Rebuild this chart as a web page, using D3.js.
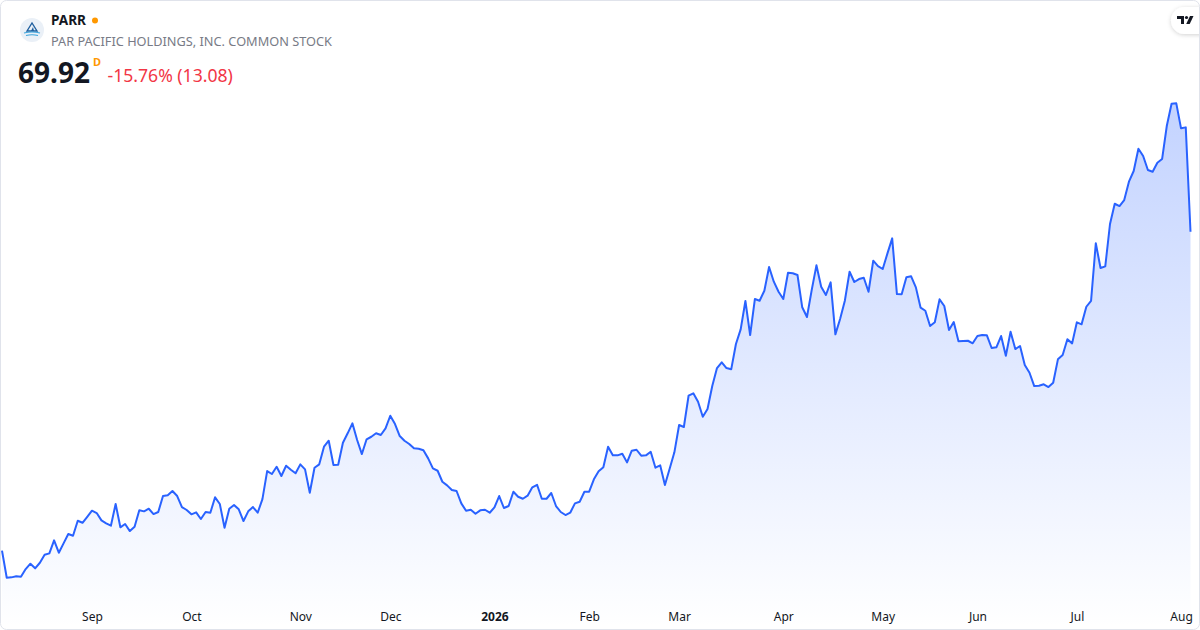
<!DOCTYPE html>
<html>
<head>
<meta charset="utf-8">
<script src="https://cdn.jsdelivr.net/npm/d3@7"></script>
<style>
  html, body { margin: 0; padding: 0; background: #fff; }
  svg { display: block; font-family: "Noto Sans", "Open Sans", sans-serif; }
</style>
</head>
<body>
<svg id="chart" width="1200" height="630"></svg>
<script>
// ---- data ----
const symbol = "PARR";
const companyName = "PAR PACIFIC HOLDINGS, INC. COMMON STOCK";
const lastPrice = "69.92";
const changeText = "-15.76% (13.08)";
const startDate = "2025-08-05";
const holidays = ["2025-09-01","2025-11-27","2025-12-25","2026-01-01","2026-01-19",
                  "2026-02-16","2026-04-03","2026-05-25","2026-06-19","2026-07-03"];
const closes = [
  29.95,26.56,26.61,26.74,26.69,27.65,28.32,27.74,28.44,29.44,
  29.62,31.25,29.70,30.87,32.04,31.82,33.70,33.45,34.20,34.96,
  34.67,33.75,33.38,33.08,35.80,32.88,33.29,32.41,32.95,35.01,
  34.88,35.21,34.54,34.80,36.80,36.89,37.43,36.80,35.42,35.05,
  34.51,34.76,33.92,34.80,34.71,36.64,35.80,32.83,35.21,35.67,
  35.13,33.67,34.88,35.42,34.71,36.42,39.93,39.56,40.47,39.31,
  40.60,40.10,39.65,40.77,40.14,37.21,40.35,40.77,42.98,43.73,
  40.69,40.72,43.48,44.66,45.91,43.82,42.06,43.91,44.23,44.66,
  44.45,45.28,46.86,45.82,44.32,43.73,43.32,42.78,42.73,42.53,
  41.52,40.27,39.97,38.59,38.14,37.55,37.43,35.88,34.96,35.08,
  34.58,35.01,35.08,34.71,35.38,36.80,35.30,35.55,37.34,36.71,
  36.46,36.84,37.89,38.21,36.46,36.46,37.18,35.55,34.80,34.42,
  34.71,35.88,36.09,37.34,37.34,38.89,39.90,40.40,42.98,41.90,
  41.90,42.10,41.02,42.48,42.60,41.85,41.90,42.35,40.35,40.65,
  38.18,40.22,42.28,45.70,45.45,49.37,49.67,48.62,46.74,47.70,
  50.59,52.84,53.56,52.84,52.68,55.85,57.69,61.24,56.97,61.49,
  61.27,62.52,65.50,63.66,62.40,61.49,64.78,64.71,64.50,60.45,
  59.23,62.61,65.71,63.03,61.99,63.58,57.06,58.98,61.27,64.91,
  63.62,63.99,64.16,62.40,66.29,65.62,65.25,67.21,69.09,62.11,
  62.08,64.21,64.33,62.95,60.40,60.02,58.10,58.57,61.45,60.61,
  57.60,58.61,56.19,56.22,56.26,55.94,56.85,56.97,56.94,55.35,
  55.44,56.85,54.38,57.39,55.22,55.60,53.22,52.25,50.58,50.62,
  50.80,50.46,51.00,53.93,54.47,56.44,55.93,58.57,58.32,60.52,
  61.27,68.47,65.37,65.58,70.89,73.43,73.14,73.89,76.19,77.53,
  80.32,79.41,77.65,77.44,78.57,79.03,83.20,85.96,86.01,82.88,
  83.00,69.92
];
const tickLabels = ["Sep","Oct","Nov","Dec","2026","Feb","Mar","Apr","May","Jun","Jul","Aug"];

// ---- trading-day categories ----
const fmt = d3.utcFormat("%Y-%m-%d");
const dates = [];
{
  let d = new Date(startDate + "T00:00:00Z");
  while (dates.length < closes.length) {
    const wd = d.getUTCDay();
    if (wd !== 0 && wd !== 6 && !holidays.includes(fmt(d))) dates.push(new Date(d));
    d = d3.utcDay.offset(d, 1);
  }
}
const data = closes.map((c, i) => ({ i, date: dates[i], close: c }));
// first trading day of each month after the start
const tickIdx = [];
for (let i = 1; i < dates.length; i++) {
  if (dates[i].getUTCMonth() !== dates[i - 1].getUTCMonth()) tickIdx.push(i);
}

const W = 1200, H = 630;
const svg = d3.select("#chart");

// card
svg.append("rect").attr("x", 0.5).attr("y", 0.5).attr("width", W - 1).attr("height", H - 1)
  .attr("rx", 6).attr("fill", "#fff").attr("stroke", "#e0e3eb");

// scales
const x = d3.scaleLinear().domain([0, closes.length - 1]).range([2, 1190.5]);
const y = d3.scaleLinear().domain([20, 90]).range([630.1, 71.5]);

const defs = svg.append("defs");
const grad = defs.append("linearGradient").attr("id", "areaGrad")
  .attr("gradientUnits", "userSpaceOnUse").attr("x1", 0).attr("x2", 0)
  .attr("y1", y(d3.max(closes))).attr("y2", 628);
grad.append("stop").attr("offset", "0%").attr("stop-color", "#2962FF").attr("stop-opacity", 0.28);
grad.append("stop").attr("offset", "100%").attr("stop-color", "#2962FF").attr("stop-opacity", 0.0);

defs.append("clipPath").attr("id", "cardClip").append("rect")
  .attr("x", 1).attr("y", 1).attr("width", W - 2).attr("height", H - 2).attr("rx", 6);

const plot = svg.append("g").attr("clip-path", "url(#cardClip)");

const area = d3.area().x(d => x(d.i)).y0(629).y1(d => y(d.close));
const line = d3.line().x(d => x(d.i)).y(d => y(d.close));

plot.append("path").datum(data).attr("d", area).attr("fill", "url(#areaGrad)");
plot.append("path").datum(data).attr("d", line).attr("fill", "none")
  .attr("stroke", "#2962FF").attr("stroke-width", 2).attr("stroke-linejoin", "round");

// x axis
const axis = d3.axisBottom(x).tickValues(tickIdx).tickSize(0).tickPadding(0)
  .tickFormat((d, k) => tickLabels[k]);
const ax = svg.append("g").attr("transform", "translate(0,612.5)").call(axis);
ax.select(".domain").remove();
ax.selectAll("text").attr("fill", "#131722").style("font-size", "12px")
  .style("font-family", "'Noto Sans', 'Open Sans', sans-serif")
  .style("font-weight", (d, k) => tickLabels[k] === "2026" ? "bold" : "normal");

// header
const hdr = svg.append("g");
hdr.append("circle").attr("cx", 32).attr("cy", 30).attr("r", 12).attr("fill", "#eaf0f7");
hdr.append("path").attr("d", "M27,31 L32,23 L37,31 Z").attr("fill", "none")
  .attr("stroke", "#1f5f9e").attr("stroke-width", 1.4);
hdr.append("path").attr("d", "M31,31 L33,27 L34,31 Z").attr("fill", "#1f5f9e");
hdr.append("path").attr("d", "M24,33 Q32,31 40,33").attr("fill", "none").attr("stroke", "#3ba4dc").attr("stroke-width", 1.1);
hdr.append("path").attr("d", "M26,35.5 Q32,34 38,35.5").attr("fill", "none").attr("stroke", "#3ba4dc").attr("stroke-width", 1.1);

hdr.append("text").attr("x", 51).attr("y", 25).text(symbol)
  .attr("fill", "#131722").style("font-size", "13.6px").style("font-weight", "bold");
hdr.append("circle").attr("cx", 95).attr("cy", 20.5).attr("r", 3).attr("fill", "#FF9800");
hdr.append("text").attr("x", 51).attr("y", 45.5).text(companyName)
  .attr("fill", "#787B86").style("font-size", "12.75px");
hdr.append("text").attr("x", 18).attr("y", 82.5).text(lastPrice)
  .attr("fill", "#131722").style("font-size", "28px").style("font-weight", "bold");
hdr.append("text").attr("x", 93).attr("y", 66).text("D")
  .attr("fill", "#FF9800").style("font-size", "11px").style("font-weight", "bold");
hdr.append("text").attr("x", 107.5).attr("y", 81.5).text(changeText)
  .attr("fill", "#F23645").style("font-size", "17.6px");

// TradingView badge
const badgeFilter = defs.append("filter").attr("id", "shadow").attr("x", "-50%").attr("y", "-50%")
  .attr("width", "200%").attr("height", "200%");
badgeFilter.append("feDropShadow").attr("dx", 0).attr("dy", 1).attr("stdDeviation", 2)
  .attr("flood-color", "#000").attr("flood-opacity", 0.18);
const badge = svg.append("g").attr("clip-path", "url(#cardClip)");
badge.append("rect").attr("x", 1171).attr("y", 7).attr("width", 50).attr("height", 27)
  .attr("rx", 13.5).attr("fill", "#fff").attr("filter", "url(#shadow)");
badge.append("path").attr("d", "M1177,16 h7 v8 h-3 v-5 h-4 Z").attr("fill", "#131722");
badge.append("circle").attr("cx", 1186.5).attr("cy", 17.5).attr("r", 1.6).attr("fill", "#131722");
badge.append("path").attr("d", "M1190,16 h3.5 l-3.8,8 h-3.5 Z").attr("fill", "#131722");
</script>
</body>
</html>
